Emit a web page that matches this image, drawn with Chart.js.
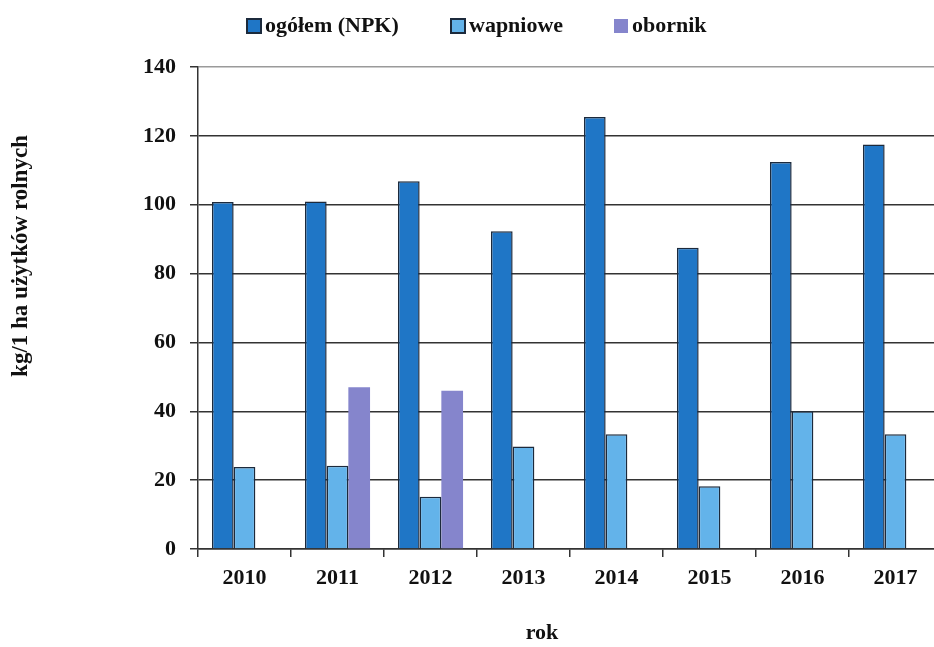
<!DOCTYPE html>
<html>
<head>
<meta charset="utf-8">
<script src="https://cdn.jsdelivr.net/npm/chart.js@4"></script>
<style>
  html, body { margin: 0; padding: 0; background: #fff; overflow: hidden; }
  #wrap { width: 960px; height: 647px; position: relative; }
</style>
</head>
<body>
<div id="wrap"><canvas id="myChart"></canvas></div>
<script>
// lata i dawki nawozow (kg/1 ha uzytkow rolnych)
var years = ["2010", "2011", "2012", "2013", "2014", "2015", "2016", "2017"];
var npk = [100.8, 100.9, 106.8, 92.3, 125.5, 87.5, 112.4, 117.5];
var wapniowe = [23.8, 24.2, 15.2, 29.8, 33.3, 18.2, 40, 33.3];
var obornik = [null, 47, 46, null, null, null, null, null];
var yTicks = [0, 20, 40, 60, 80, 100, 120, 140];

var serif = "'Liberation Serif', 'Times New Roman', serif";

// legenda rysowana recznie, zeby odstepy byly jak w oryginale
var legendX = [247, 451, 614];
var customLegend = {
  id: "customLegend",
  afterDraw: function(chart) {
    var c = chart.ctx;
    c.save();
    c.font = "bold 22px " + serif;
    c.textBaseline = "middle";
    chart.data.datasets.forEach(function(ds, i) {
      var x = legendX[i], y = 26;
      c.fillStyle = ds.backgroundColor;
      c.fillRect(x, y - 7, 14, 14);
      if (ds.borderWidth) {
        c.strokeStyle = ds.borderColor;
        c.lineWidth = 2;
        c.strokeRect(x, y - 7, 14, 14);
      }
      c.fillStyle = "#111";
      c.fillText(ds.label, x + 18, y);
    });
    c.restore();
  }
};

var axisTitles = {
  id: "axisTitles",
  afterDraw: function(chart) {
    var c = chart.ctx;
    c.save();
    c.fillStyle = "#111";
    c.textAlign = "center";
    c.textBaseline = "middle";
    c.font = "bold 22px " + serif;
    c.fillText("rok", 542, 633);
    c.translate(21, 256);
    c.rotate(-Math.PI / 2);
    c.font = "bold 23px " + serif;
    c.fillText("kg/1 ha użytków rolnych", 0, 0);
    c.restore();
  }
};

var ctx = document.getElementById("myChart");
var myChart = new Chart(ctx, {
  type: "bar",
  data: {
    labels: years,
    datasets: [
      {
        label: "ogółem (NPK)",
        data: npk,
        backgroundColor: "#1f76c6",
        borderColor: "#1c2a3c",
        borderWidth: 1.5
      },
      {
        label: "wapniowe",
        data: wapniowe,
        backgroundColor: "#63b3ea",
        borderColor: "#1c2a3c",
        borderWidth: 1.5
      },
      {
        label: "obornik",
        data: obornik,
        backgroundColor: "#8585cc",
        borderWidth: 0
      }
    ]
  },
  options: {
    responsive: true,
    maintainAspectRatio: false,
    animation: false,
    layout: { padding: { top: 67, right: 18, left: 0, bottom: 0 } },
    datasets: {
      bar: { categoryPercentage: 0.7, barPercentage: 1.0 }
    },
    plugins: {
      legend: { display: false },
      tooltip: { enabled: false }
    },
    scales: {
      x: {
        grid: {
          offset: true,
          drawOnChartArea: false,
          drawTicks: true,
          tickLength: 8,
          tickColor: "#333",
          lineWidth: 1.5
        },
        border: { color: "#333", width: 1.5 },
        ticks: {
          color: "#111",
          padding: 8,
          font: { family: serif, size: 22, weight: "bold" }
        },
        afterFit: function(scale) { scale.height = 98; }
      },
      y: {
        min: 0,
        max: 140,
        afterBuildTicks: function(scale) {
          scale.ticks = yTicks.map(function(v) { return { value: v }; });
        },
        grid: {
          color: function(c) { return c.tick && c.tick.value === 140 ? "#9a9a9a" : "#333"; },
          lineWidth: 1.5,
          tickLength: 8,
          tickColor: "#333"
        },
        border: { color: "#333", width: 1.5 },
        ticks: {
          color: "#111",
          padding: 14,
          font: { family: serif, size: 22, weight: "bold" }
        },
        afterFit: function(scale) { scale.width = 198; }
      }
    }
  },
  plugins: [customLegend, axisTitles]
});
</script>
</body>
</html>
